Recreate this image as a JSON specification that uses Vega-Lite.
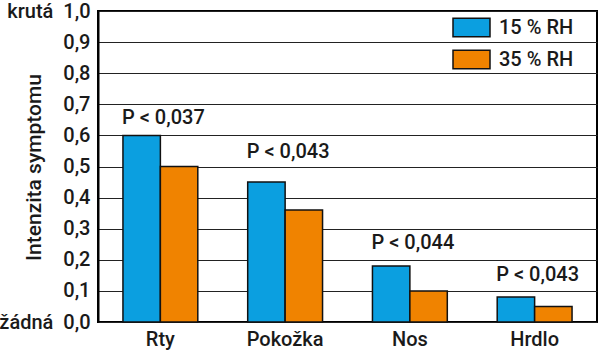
{
  "$schema": "https://vega.github.io/schema/vega-lite/v6.json",
  "width": 499,
  "height": 311,
  "autosize": {"type": "none"},
  "padding": {"left": 98, "top": 11, "right": 3, "bottom": 31},
  "background": "white",
  "config": {
    "font": "Roboto",
    "view": {"stroke": "#000", "strokeWidth": 2},
    "axis": {"labelFont": "Roboto", "labelFontSize": 20, "labelFontWeight": 500, "labelColor": "#1a1a1a", "titleFont": "Roboto", "titleFontSize": 21, "titleFontWeight": 500, "titleColor": "#1a1a1a", "labelOverlap": false}
  },
  "datasets": {
    "bars": [
      {"cat": "Rty", "rh": "15 % RH", "v": 0.6},
      {"cat": "Rty", "rh": "35 % RH", "v": 0.5},
      {"cat": "Pokožka", "rh": "15 % RH", "v": 0.45},
      {"cat": "Pokožka", "rh": "35 % RH", "v": 0.36},
      {"cat": "Nos", "rh": "15 % RH", "v": 0.18},
      {"cat": "Nos", "rh": "35 % RH", "v": 0.1},
      {"cat": "Hrdlo", "rh": "15 % RH", "v": 0.08},
      {"cat": "Hrdlo", "rh": "35 % RH", "v": 0.05}
    ],
    "notes": [
      {"cat": "Rty", "label": "P < 0,037", "py": 0.656},
      {"cat": "Pokožka", "label": "P < 0,043", "py": 0.547},
      {"cat": "Nos", "label": "P < 0,044", "py": 0.254},
      {"cat": "Hrdlo", "label": "P < 0,043", "py": 0.151}
    ]
  },
  "layer": [
    {
      "data": {"name": "bars"},
      "mark": {"type": "bar", "stroke": "#111", "strokeWidth": 1.5},
      "encoding": {
        "x": {"field": "cat", "type": "nominal", "sort": ["Rty", "Pokožka", "Nos", "Hrdlo"],
              "scale": {"paddingInner": 0.4, "paddingOuter": 0.2},
              "axis": {"title": null, "labelAngle": 0, "ticks": false, "domain": false, "labelPadding": 7}},
        "xOffset": {"field": "rh", "type": "nominal", "scale": {"paddingInner": 0, "paddingOuter": 0}},
        "y": {"field": "v", "type": "quantitative", "scale": {"domain": [0, 1], "nice": false},
              "axis": {"title": "Intenzita symptomu", "values": [0, 0.1, 0.2, 0.3, 0.4, 0.5, 0.6, 0.7, 0.8, 0.9, 1.0], "tickCount": 11,
                       "labelExpr": "(datum.value == 1 ? 'krutá\u00a0\u00a0' : datum.value == 0 ? 'žádná\u00a0\u00a0' : '') + replace(format(datum.value, '.1f'), '.', ',')",
                       "ticks": false, "domain": true, "domainColor": "#000", "domainWidth": 2,
                       "grid": true, "gridColor": "#222", "gridWidth": 1.2, "gridOpacity": 1,
                       "labelPadding": 8, "labelBaseline": "middle", "labelOverlap": false,
                       "titleX": -64, "titleY": 156, "titleAngle": -90, "titleAlign": "center", "titleBaseline": "middle"}},
        "color": {"field": "rh", "type": "nominal",
                  "scale": {"domain": ["15 % RH", "35 % RH"], "range": ["#0b9fe0", "#f08300"]},
                  "legend": {"title": null, "orient": "none", "legendX": 354, "legendY": -3,
                             "symbolType": "M-1,-0.5H1V0.5H-1Z", "symbolSize": 1369, "symbolStrokeColor": "#111", "symbolStrokeWidth": 1.5, "symbolOpacity": 1,
                             "labelFont": "Roboto", "labelFontSize": 20, "labelFontWeight": 500, "labelColor": "#1a1a1a", "labelOffset": 8, "rowPadding": -3}}
      }
    },
    {
      "data": {"name": "notes"},
      "mark": {"type": "text", "align": "left", "baseline": "middle", "fontSize": 20, "fontWeight": 500, "font": "Roboto", "color": "#1a1a1a", "dx": -1},
      "encoding": {
        "x": {"field": "cat", "type": "nominal", "sort": ["Rty", "Pokožka", "Nos", "Hrdlo"], "bandPosition": 0},
        "y": {"field": "py", "type": "quantitative",
              "axis": {"title": "Intenzita symptomu", "values": [0, 0.1, 0.2, 0.3, 0.4, 0.5, 0.6, 0.7, 0.8, 0.9, 1.0], "tickCount": 11,
                       "labelExpr": "(datum.value == 1 ? 'krutá\u00a0\u00a0' : datum.value == 0 ? 'žádná\u00a0\u00a0' : '') + replace(format(datum.value, '.1f'), '.', ',')",
                       "ticks": false, "domain": true, "domainColor": "#000", "domainWidth": 2,
                       "grid": true, "gridColor": "#222", "gridWidth": 1.2, "gridOpacity": 1,
                       "labelPadding": 8, "labelBaseline": "middle", "labelOverlap": false,
                       "titleX": -64, "titleY": 156, "titleAngle": -90, "titleAlign": "center", "titleBaseline": "middle"}},
        "text": {"field": "label"}
      }
    }
  ]
}
